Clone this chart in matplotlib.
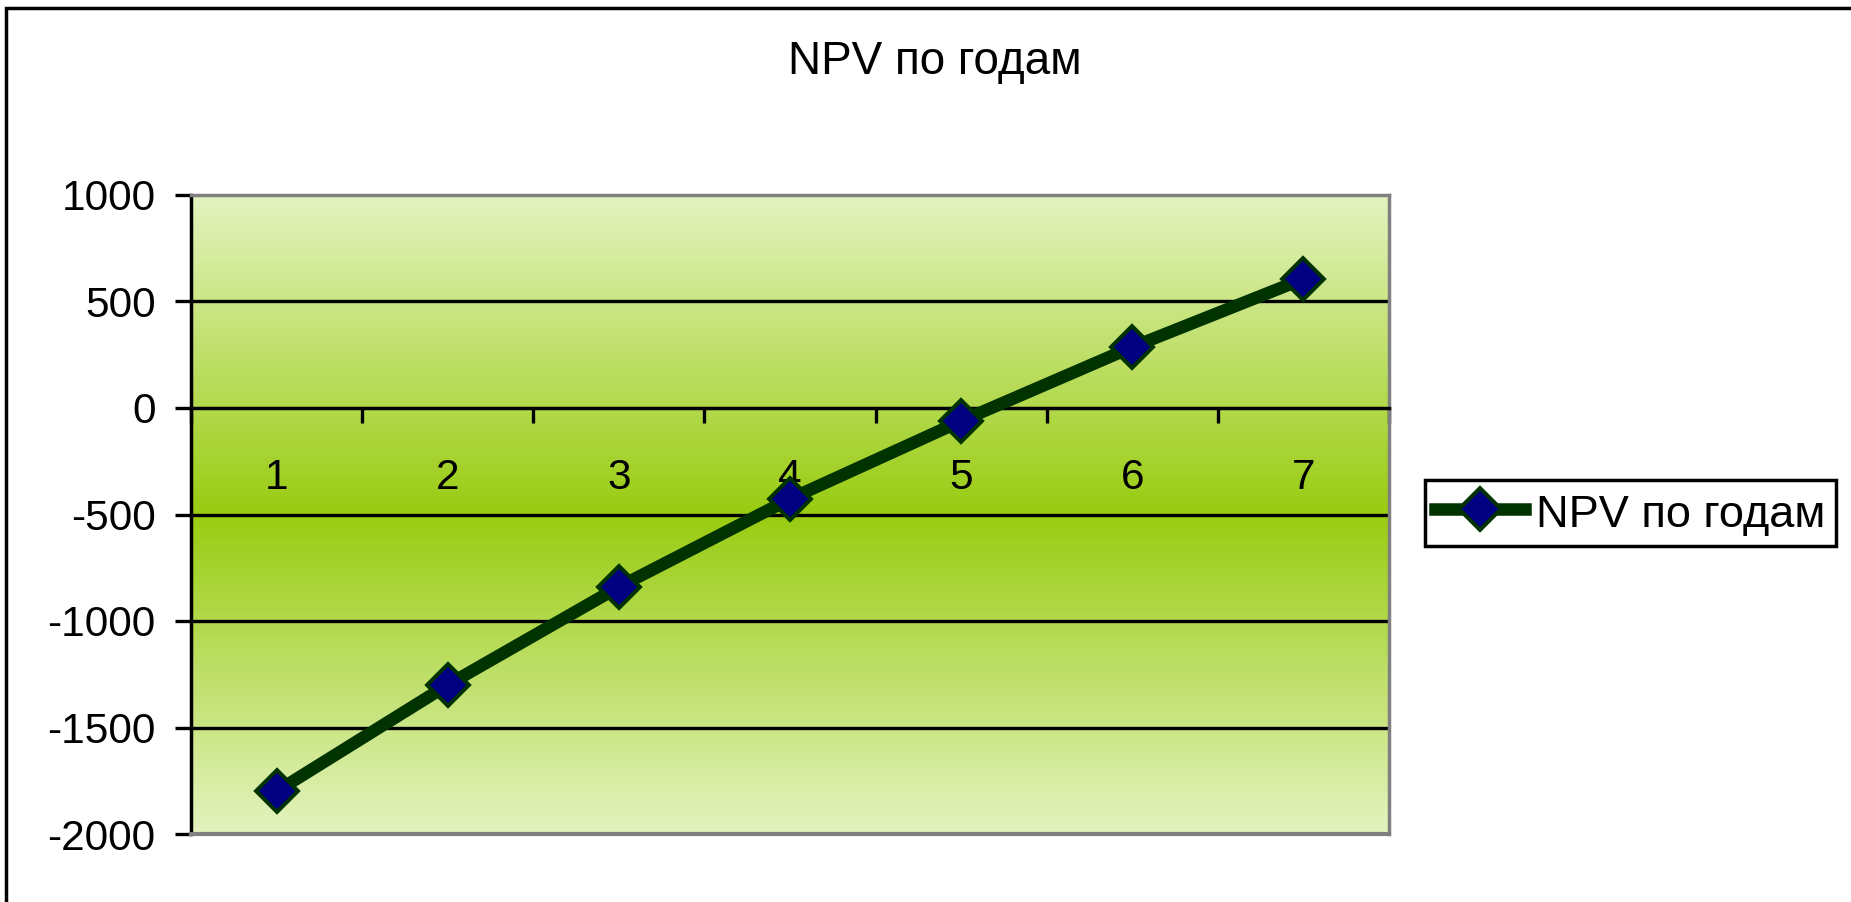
import matplotlib
matplotlib.use("Agg")
import matplotlib.pyplot as plt
import numpy as np
from matplotlib.colors import LinearSegmentedColormap
from matplotlib.lines import Line2D
from matplotlib.patches import Rectangle

plt.rcParams['font.family'] = ['Liberation Sans', 'DejaVu Sans']

# data
years = [1, 2, 3, 4, 5, 6, 7]
npv = [-1800, -1300, -840, -427, -61, 286, 606]
y_ticks = [-2000, -1500, -1000, -500, 0, 500, 1000]
series_name = 'NPV по годам'

fig = plt.figure(figsize=(18.51, 9.02), dpi=100)
ax = fig.add_axes([191 / 1851, 1 - 834 / 902, (1389 - 191) / 1851, (834 - 195) / 902])

# plot area background: light - green - light vertical gradient
cmap = LinearSegmentedColormap.from_list('bg', ['#e4f3c0', '#99cc11', '#e4f3c0'])
grad = np.linspace(0, 1, 256).reshape(-1, 1)
ax.imshow(grad, cmap=cmap, aspect='auto', extent=[0, 1, 0, 1],
          transform=ax.transAxes, zorder=0, interpolation='bicubic')

ax.set_xlim(0.5, 7.5)
ax.set_ylim(-2000, 1000)

# gridlines
for v in y_ticks:
    if -2000 < v < 1000 and v != 0:
        ax.axhline(v, color='black', lw=2.4, zorder=1)

ax.plot(years, npv, color='#003300', lw=9, marker='D', markersize=21,
        markerfacecolor='#000080', markeredgecolor='#003300',
        markeredgewidth=2.8, zorder=4, clip_on=False)

# spines
for side in ['top', 'right']:
    ax.spines[side].set_color('#808080')
    ax.spines[side].set_linewidth(2.5)
ax.spines['left'].set_color('black')
ax.spines['left'].set_linewidth(2.5)
ax.spines['bottom'].set_position(('data', 0))
ax.spines['bottom'].set_color('black')
ax.spines['bottom'].set_linewidth(2.5)
ax.spines['bottom'].set_zorder(3)
ax.axhline(-2000, color='#808080', lw=3, zorder=3, clip_on=False)

ax.set_yticks(y_ticks)
ax.set_yticklabels([str(v) for v in y_ticks], fontsize=30.5)
ax.tick_params(axis='y', direction='out', length=11.5, width=2.4, pad=14, colors='black')

ax.set_xticks(np.arange(0.5, 8, 1))
ax.set_xticklabels([])
ax.set_xticks(years, minor=True)
ax.set_xticklabels([str(y) for y in years], minor=True, fontsize=30.5)
ax.tick_params(axis='x', which='major', direction='out', length=11, width=2.4)
ax.tick_params(axis='x', which='minor', length=0, pad=36)

fig.text(935 / 1851, 1 - 62 / 902, series_name, fontsize=33, ha='center', va='center')

handle = Line2D([0], [0], color='#003300', lw=9, marker='D', markersize=21,
                markerfacecolor='#000080', markeredgecolor='#003300', markeredgewidth=2.8)
leg = fig.legend([handle], [series_name], loc='center left',
                 bbox_to_anchor=(1425 / 1851, 1 - 513 / 902), fontsize=32.5,
                 frameon=True, fancybox=False, edgecolor='black', framealpha=1,
                 borderpad=0.22, handlelength=2.0, handleheight=1.1,
                 handletextpad=0.25, borderaxespad=0)
leg.get_frame().set_linewidth(2.5)

# outer chart border (only left and top visible in the picture)
fig.patches.append(Rectangle((6 / 1851, -0.1), 1.2, 1 - 8 / 902 + 0.1,
                             transform=fig.transFigure, fill=False,
                             edgecolor='black', lw=2.5))

fig.savefig('out.png', dpi=100)
